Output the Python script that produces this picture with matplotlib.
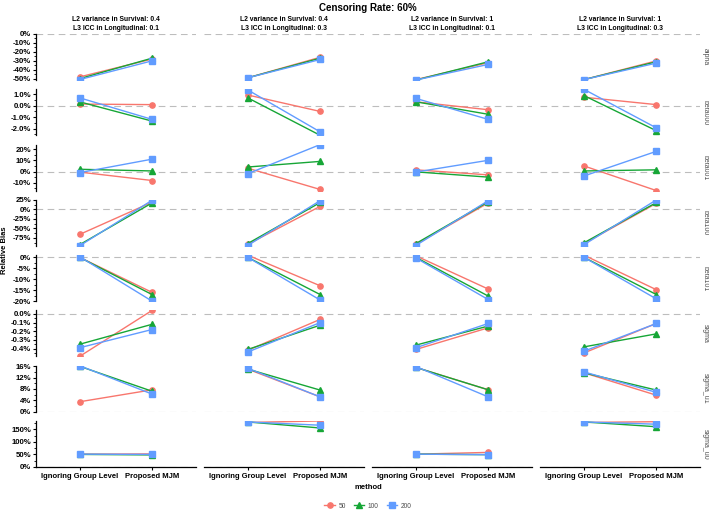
import matplotlib
matplotlib.use("Agg")
import matplotlib.pyplot as plt
from matplotlib.ticker import MultipleLocator, AutoMinorLocator, FuncFormatter
from matplotlib.lines import Line2D

plt.rcParams['font.family'] = ['Liberation Sans', 'DejaVu Sans']
plt.rcParams['axes.unicode_minus'] = False

params = ["alpha", "beta000", "beta001", "beta100", "beta101", "sigma", "sigma_u1", "sigma_u0"]
conditions = [
    "L2 variance in Survival: 0.4\nL3 ICC in Longitudinal: 0.1",
    "L2 variance in Survival: 0.4\nL3 ICC in Longitudinal: 0.3",
    "L2 variance in Survival: 1\nL3 ICC in Longitudinal: 0.1",
    "L2 variance in Survival: 1\nL3 ICC in Longitudinal: 0.3",
]
methods = ["Ignoring Group Level", "Proposed MJM"]
sample_sizes = ["50", "100", "200"]

# relative bias (%), per parameter row -> per condition column -> [ignoring, proposed]
bias_n50 = [
    [[-48, -28], [-49, -26], [-51, -32], [-51, -30]],
    [[0.15, 0.1], [0.95, -0.5], [0.35, -0.35], [0.75, 0.1]],
    [[-0.5, -8], [3, -16], [1.5, -3], [5, -17]],
    [[-66, 19], [-92, 8], [-92, 17], [-90, 16]],
    [[0, -16], [1, -13], [0.7, -14.5], [1, -14.8]],
    [[-0.49, 0.04], [-0.42, -0.063], [-0.41, -0.16], [-0.45, -0.11]],
    [[3.5, 7.7], [15, 5.2], [15.6, 7.7], [13.7, 5.8]],
    [[51, 52], [177, 183], [51, 58], [177, 180]],
]
bias_n100 = [
    [[-50, -27], [-49, -27], [-51.5, -31], [-51, -31]],
    [[0.35, -1.35], [0.7, -2.6], [0.35, -0.75], [0.9, -2.2]],
    [[2, 0.5], [4, 9], [-0.3, -5], [0.5, 1.5]],
    [[-93, 17], [-90, 18], [-90, 20], [-88, 18]],
    [[0, -17], [0, -17], [0, -17.7], [0, -17]],
    [[-0.35, -0.12], [-0.41, -0.13], [-0.36, -0.14], [-0.38, -0.23]],
    [[16, 7.2], [15, 7.6], [15.6, 7.7], [13.7, 7.6]],
    [[50, 48], [179, 155], [51, 49], [179, 160]],
]
bias_n200 = [
    [[-51, -30], [-49, -28.5], [-51.5, -34], [-51, -32.5]],
    [[0.7, -1.2], [1.4, -2.3], [0.65, -1.2], [1.45, -1.95]],
    [[-1, 11], [-2, 24], [-0.5, 10], [-4, 18]],
    [[-96, 24], [-95, 23], [-95, 23], [-93, 25]],
    [[0.3, -20], [0, -19.5], [-0.3, -19.3], [0, -19]],
    [[-0.39, -0.18], [-0.44, -0.1], [-0.39, -0.11], [-0.43, -0.11]],
    [[16.2, 6.2], [15.3, 5.2], [15.9, 5.2], [14, 6.8]],
    [[51, 50], [179, 166], [51, 49], [179, 170]],
]
series = [bias_n50, bias_n100, bias_n200]

colors = ["#F8766D", "#16A636", "#619CFF"]
markers = ["o", "^", "s"]
tick_steps = [10, 1, 10, 25, 5, 0.1, 4, 50]
tick_decimals = [0, 1, 0, 0, 0, 1, 0, 0]

W, H = 709, 511
fig = plt.figure(figsize=(W / 100, H / 100), dpi=100)
gs = fig.add_gridspec(8, 4, left=36 / W, right=700 / W, top=1 - 34 / H, bottom=1 - 467 / H,
                      wspace=0.053, hspace=0.2)


def make_fmt(dec):
    def f(v, pos):
        if abs(v) < 1e-9:
            v = 0.0
        return f"{v:.{dec}f}%"
    return FuncFormatter(f)


for r, p in enumerate(params):
    allv = [v for s in series for pair in s[r] for v in pair]
    lo, hi = min(min(allv), 0), max(max(allv), 0)
    for c in range(4):
        ax = fig.add_subplot(gs[r, c])
        ax.axhline(0, color="#BDBDBD", lw=0.8, dashes=(6, 4), zorder=0)
        for s, col, mk in zip(series, colors, markers):
            ax.plot([1, 2], s[r][c], color=col, marker=mk, ms=3.8, lw=1.0)
        ax.set_xlim(0.4, 2.6)
        ax.set_ylim(lo, hi)
        ax.spines["top"].set_visible(False)
        ax.spines["right"].set_visible(False)
        ax.spines["left"].set_visible(c == 0)
        ax.spines["bottom"].set_visible(r == 7)
        ax.spines["left"].set_linewidth(0.9)
        ax.spines["bottom"].set_linewidth(0.9)
        ax.set_xticks([1, 2])
        if r == 7:
            ax.set_xticklabels(methods, fontsize=5.5, fontweight="bold")
            ax.tick_params(axis="x", length=2.5, width=0.8, pad=2)
        else:
            ax.tick_params(axis="x", bottom=False, labelbottom=False)
        if c == 0:
            ax.yaxis.set_major_locator(MultipleLocator(tick_steps[r]))
            ax.yaxis.set_minor_locator(AutoMinorLocator(2))
            ax.yaxis.set_major_formatter(make_fmt(tick_decimals[r]))
            ax.tick_params(axis="y", which="major", length=2.5, width=0.8, pad=1, labelsize=5.6)
            ax.tick_params(axis="y", which="minor", length=1.3, width=0.6)
            for lab in ax.get_yticklabels():
                lab.set_fontweight("bold")
        else:
            ax.tick_params(axis="y", which="both", left=False, labelleft=False)
        if r == 0:
            ax.set_title(conditions[c], fontsize=4.9, fontweight="bold", pad=3, linespacing=1.35)
        if c == 3:
            ax.text(1.012, 0.5, p, transform=ax.transAxes, rotation=-90, ha="left", va="center",
                    fontsize=5, color="#4D4D4D")

fig.text(368 / W, 1 - 8 / H, "Censoring Rate: 60%", ha="center", va="center",
         fontsize=7, fontweight="bold")
fig.text(5 / W, 1 - 250 / H, "Relative Bias", rotation=90, ha="center", va="center",
         fontsize=5.5, fontweight="bold")
fig.text(368 / W, 1 - 487 / H, "method", ha="center", va="center", fontsize=5.5, fontweight="bold")

handles = [Line2D([], [], color=col, marker=mk, ms=3.8, lw=1.0) for col, mk in zip(colors, markers)]
fig.legend(handles, sample_sizes, loc="center", bbox_to_anchor=(368 / W, 1 - 506 / H), ncol=3,
           frameon=False, fontsize=4.8, handlelength=1.6, columnspacing=1.2, handletextpad=0.5,
           labelcolor="#4D4D4D")

fig.savefig("out.png", dpi=100)
